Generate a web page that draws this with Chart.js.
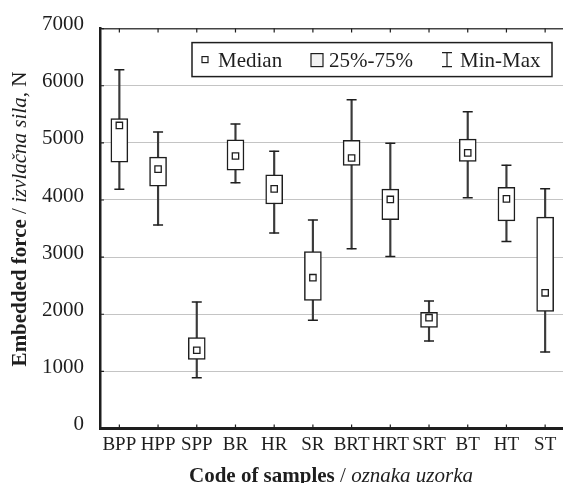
<!DOCTYPE html>
<html>
<head>
<meta charset="utf-8">
<script src="https://cdn.jsdelivr.net/npm/chart.js@4.4.0/dist/chart.umd.min.js"></script>
<style>
  html, body { margin: 0; padding: 0; background: #fff; overflow: hidden; }
  #wrap { width: 571px; height: 483px; }
</style>
</head>
<body>
<div id="wrap"><canvas id="myChart" width="571" height="483"></canvas></div>
<script>
// box plot values (N)
const categories = ['BPP', 'HPP', 'SPP', 'BR', 'HR', 'SR', 'BRT', 'HRT', 'SRT', 'BT', 'HT', 'ST'];
const mins    = [4190, 3560,  890, 4300, 3420, 1895, 3145, 3010, 1530, 4040, 3275, 1340];
const q1      = [4660, 4240, 1210, 4520, 3930, 2240, 4605, 3655, 1770, 4675, 3635, 2050];
const medians = [5305, 4540, 1370, 4770, 4195, 2640, 4735, 4010, 1940, 4825, 4020, 2375];
const q3      = [5425, 4750, 1590, 5055, 4440, 3095, 5045, 4190, 2035, 5065, 4220, 3700];
const maxs    = [6280, 5190, 2215, 5330, 4855, 3650, 5755, 4995, 2230, 5545, 4610, 4195];
const yTicks  = [0, 1000, 2000, 3000, 4000, 5000, 6000, 7000];

const serif = "'Liberation Serif', 'Times New Roman', serif";
const ink = '#1e1e1e';

// inner tick marks, legend box and the mixed-style axis titles
const frame = {
    id: 'frame',
    afterDatasetsDraw(chart) {
        const ctx = chart.ctx;
        const x = chart.scales.x, y = chart.scales.y;
        const a = chart.chartArea;
        ctx.save();
        ctx.strokeStyle = ink;
        ctx.lineWidth = 1.2;
        ctx.beginPath();
        categories.forEach((c, i) => {
            const px = x.getPixelForValue(i);
            ctx.moveTo(px, a.top); ctx.lineTo(px, a.top + 4);
            ctx.moveTo(px, a.bottom); ctx.lineTo(px, a.bottom - 4);
        });
        yTicks.forEach(v => {
            const py = y.getPixelForValue(v);
            ctx.moveTo(a.left, py); ctx.lineTo(a.left + 4, py);
        });
        ctx.stroke();
        ctx.restore();
    },
    afterDraw(chart) {
        const ctx = chart.ctx;
        const a = chart.chartArea;
        ctx.save();

        // legend
        const L = a.left + 92, T = a.top + 14;
        ctx.fillStyle = '#fff';
        ctx.fillRect(L, T, 360, 34);
        ctx.strokeStyle = ink;
        ctx.lineWidth = 1.5;
        ctx.strokeRect(L, T, 360, 34);

        ctx.lineWidth = 1.2;
        ctx.strokeRect(L + 10, T + 14, 6, 6);
        ctx.fillStyle = '#f2f2f2';
        ctx.fillRect(L + 119, T + 11, 12, 13);
        ctx.strokeRect(L + 119, T + 11, 12, 13);
        ctx.beginPath();
        ctx.moveTo(L + 255, T + 10); ctx.lineTo(L + 255, T + 24);
        ctx.moveTo(L + 250, T + 10); ctx.lineTo(L + 260, T + 10);
        ctx.moveTo(L + 250, T + 24); ctx.lineTo(L + 260, T + 24);
        ctx.stroke();

        ctx.fillStyle = ink;
        ctx.font = '21px ' + serif;
        ctx.textBaseline = 'alphabetic';
        ctx.fillText('Median', L + 26, T + 24);
        ctx.fillText('25%-75%', L + 137, T + 24);
        ctx.fillText('Min-Max', L + 268, T + 24);

        // axis titles
        const drawParts = (parts, cx, baseline) => {
            let total = 0;
            parts.forEach(p => { ctx.font = p[1] + ' 21px ' + serif; total += ctx.measureText(p[0]).width; });
            let px = cx - total / 2;
            parts.forEach(p => {
                ctx.font = p[1] + ' 21px ' + serif;
                ctx.fillText(p[0], px, baseline);
                px += ctx.measureText(p[0]).width;
            });
        };
        drawParts([['Code of samples', 'bold'], [' / ', 'normal'], ['oznaka uzorka', 'italic']], 331, 482);

        ctx.translate(26, 219);
        ctx.rotate(-Math.PI / 2);
        drawParts([['Embedded force', 'bold'], [' / ', 'normal'], ['izvlačna sila', 'italic'], [', N', 'normal']], 0, 0);

        ctx.restore();
    }
};

new Chart(document.getElementById('myChart'), {
    data: {
        labels: categories,
        datasets: [
            {
                type: 'line',
                data: medians,
                showLine: false,
                pointStyle: 'rect',
                pointRadius: 4.5,
                pointBackgroundColor: '#fff',
                pointBorderColor: ink,
                pointBorderWidth: 1.3,
                order: 0
            },
            {
                type: 'bar',
                data: categories.map((c, i) => [q1[i], q3[i]]),
                backgroundColor: '#fff',
                borderColor: ink,
                borderWidth: 1.5,
                borderSkipped: false,
                barThickness: 17,
                grouped: false,
                order: 1
            },
            {
                type: 'line',
                data: maxs,
                showLine: false,
                pointStyle: 'line',
                pointRadius: 5,
                pointBorderColor: ink,
                pointBorderWidth: 1.5,
                order: 2
            },
            {
                type: 'line',
                data: mins,
                showLine: false,
                pointStyle: 'line',
                pointRadius: 5,
                pointBorderColor: ink,
                pointBorderWidth: 1.5,
                order: 2
            },
            {
                type: 'bar',
                data: categories.map((c, i) => [mins[i], maxs[i]]),
                backgroundColor: '#3a3a3a',
                borderWidth: 0,
                barThickness: 1.5,
                grouped: false,
                order: 3
            }
        ]
    },
    options: {
        responsive: false,
        animation: false,
        layout: { padding: { top: 25, left: 0, right: 0, bottom: 0 } },
        plugins: { legend: { display: false }, tooltip: { enabled: false } },
        scales: {
            x: {
                offset: true,
                grid: { display: false, drawTicks: false },
                border: { color: ink, width: 3 },
                ticks: { color: ink, font: { family: serif, size: 19 }, padding: 5, maxRotation: 0, autoSkip: false },
                afterFit: s => { s.height = 54.5; }
            },
            y: {
                min: 0,
                max: 7000,
                afterBuildTicks: s => { s.ticks = yTicks.map(v => ({ value: v })); },
                grid: {
                    drawTicks: false,
                    color: c => c.tick.value === 7000 ? '#444' : '#c4c4c4',
                    lineWidth: c => c.tick.value === 7000 ? 1.5 : 1
                },
                border: { color: ink, width: 2.5 },
                ticks: {
                    color: ink,
                    font: { family: serif, size: 21 },
                    padding: 16,
                    labelOffset: -4,
                    callback: v => String(v)
                },
                afterFit: s => { s.width = 100; }
            }
        }
    },
    plugins: [frame]
});
</script>
</body>
</html>
